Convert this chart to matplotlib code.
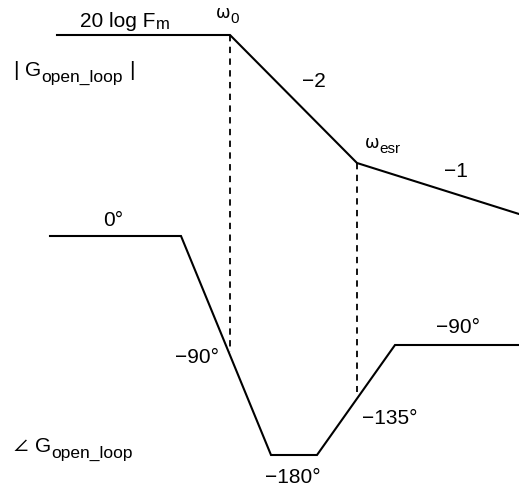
import matplotlib.pyplot as plt

plt.rcParams["font.family"] = ["Liberation Sans", "DejaVu Sans"]

# schematic asymptotic Bode plot (units: figure pixels, y grows downward)
mag_freq = [57, 230, 357, 519]
mag_level = [35, 35, 163, 214]

phase_freq = [50, 181, 271, 317, 395, 519]
phase_level = [236, 236, 455, 455, 345, 345]

# corner frequencies: (x, top of marker, bottom of marker)
corner_marks = [(230, 35, 352), (357, 163, 392)]

# plain labels: (text, x centre, baseline y)
labels = [
    ("−2", 314, 87),
    ("−1", 456, 177),
    ("0°", 113, 226),
    ("−90°", 197, 363),
    ("−180°", 293, 483),
    ("−135°", 390, 424),
    ("−90°", 458, 333),
]

fig = plt.figure(figsize=(5.19, 4.87), dpi=100)
ax = fig.add_axes([0, 0, 1, 1])
ax.set_xlim(0, 519)
ax.set_ylim(487, 0)
ax.axis("off")

ax.plot(mag_freq, mag_level, color="black", lw=1.5, solid_joinstyle="miter")
ax.plot(phase_freq, phase_level, color="black", lw=1.5, solid_joinstyle="miter")
for x, y0, y1 in corner_marks:
    ax.plot([x, x], [y0, y1], color="black", lw=1.3, linestyle=(0, (3.5, 3)))

for txt, x, y in labels:
    ax.text(x, y, txt, fontsize=15, ha="center", va="baseline")

renderer = fig.canvas.get_renderer()


def run_of_text(x, y, pieces):
    # pieces: (text, size, drop below baseline, gap before, family)
    for txt, size, dy, gap, fam in pieces:
        x += gap
        t = ax.text(x, y + dy, txt, fontsize=size, ha="left", va="baseline",
                    family=fam)
        bb = t.get_window_extent(renderer=renderer)
        x = ax.transData.inverted().transform((bb.x1, bb.y0))[0]


SANS = ["Liberation Sans", "DejaVu Sans"]

run_of_text(80, 27, [("20 log F", 15, 0, 0, SANS), ("m", 12, 2, 1, SANS)])
run_of_text(13, 76, [("|", 15, 0, 0, SANS), ("G", 15, 0, 7, SANS),
                     ("open_loop", 12.5, 6, 0, SANS), ("|", 15, 0, 6, SANS)])
run_of_text(216, 18, [("ω", 12.5, 0, 0, ["DejaVu Sans"]), ("0", 11, 5, 0, SANS)])
run_of_text(365, 148, [("ω", 12.5, 0, 0, ["DejaVu Sans"]), ("esr", 11, 5, 0, SANS)])

ax.text(13, 451, "$\\angle$", fontsize=15, ha="left", va="baseline",
        math_fontfamily="stixsans")
run_of_text(35, 452, [("G", 15, 0, 0, SANS), ("open_loop", 12.5, 6, 0, SANS)])

fig.savefig("out.png", dpi=100)
